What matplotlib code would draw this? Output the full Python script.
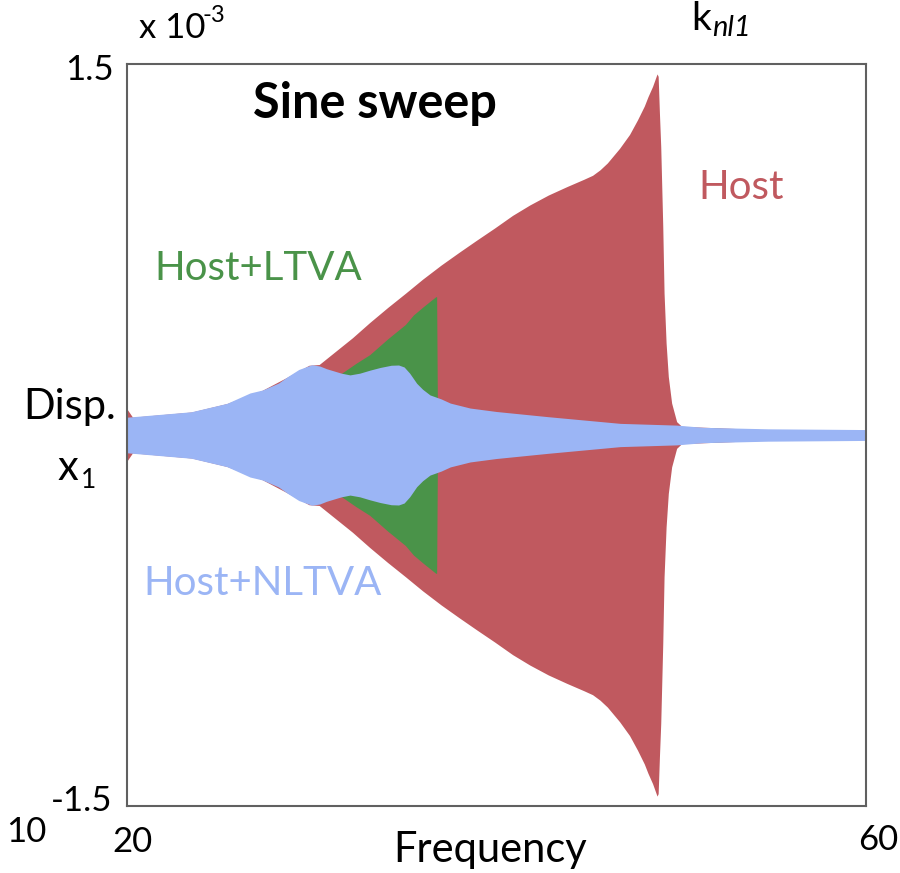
import numpy as np
import matplotlib
matplotlib.use("Agg")
import matplotlib.pyplot as plt

plt.rcParams['font.family'] = ['Lato', 'DejaVu Sans']

# envelope amplitudes (x 1e-3), symmetric about zero
f_host = [20.0, 20.3, 23.5, 25.4, 27.3, 28.7, 29.85, 30.4, 31.2, 32.2, 33.14, 34.1, 35.07, 36.0,
          37.0, 38.0, 38.93, 39.9, 40.87, 41.8, 42.8, 43.8, 44.73, 45.2, 45.6, 46.0, 46.66,
          47.2, 47.63, 48.0, 48.2, 48.45, 48.69, 48.75, 48.82, 48.89, 49.0, 49.07, 49.18,
          49.3, 49.48, 49.75, 50.02, 55.0, 60.0]
a_host = [0.105, 0.072, 0.093, 0.127, 0.18, 0.235, 0.282, 0.285, 0.333, 0.393, 0.455, 0.515, 0.573, 0.63,
          0.687, 0.74, 0.788, 0.837, 0.888, 0.93, 0.97, 1.004, 1.034, 1.05, 1.072, 1.1, 1.159,
          1.215, 1.274, 1.33, 1.368, 1.41, 1.46, 1.45, 1.3, 1.166, 0.842, 0.574, 0.372,
          0.236, 0.129, 0.054, 0.035, 0.02, 0.018]

f_ltva = [20.0, 23.48, 25.41, 27.34, 28.69, 29.85, 30.4, 31.2, 31.6, 32.4, 33.14, 34.1, 35.07, 35.5,
          36.04, 36.71, 36.76, 36.8, 37.5, 38.57, 40.0, 42.8, 46.7, 49.75, 54.7, 60.0]
a_ltva = [0.06, 0.085, 0.115, 0.165, 0.21, 0.25, 0.24, 0.244, 0.249, 0.29, 0.325, 0.388, 0.447, 0.485,
          0.519, 0.559, 0.559, 0.12, 0.11, 0.095, 0.085, 0.065, 0.04, 0.033, 0.02, 0.017]

f_nltva = [20.0, 23.48, 25.41, 26.66, 27.34, 28.2, 28.69, 29.3, 30.0, 30.43, 30.8, 31.6, 32.07, 32.6,
           33.14, 33.7, 34.3, 34.7, 35.0, 35.3, 35.68, 36.0, 36.4, 37.0, 37.5, 38.57, 40.0, 42.8,
           46.7, 49.75, 51.2, 54.7, 60.0]
a_nltva = [0.072, 0.094, 0.128, 0.17, 0.182, 0.21, 0.236, 0.265, 0.284, 0.279, 0.268, 0.25, 0.243, 0.25,
           0.262, 0.273, 0.282, 0.283, 0.275, 0.25, 0.209, 0.185, 0.162, 0.146, 0.129, 0.109, 0.095, 0.074,
           0.047, 0.040, 0.031, 0.025, 0.022]

c_host = '#C0595F'
c_ltva = '#4A9349'
c_nltva = '#9BB5F5'

fig = plt.figure(figsize=(9, 8.73), dpi=100)
ax = fig.add_axes([127/900, 1-806/873, 739/900, 742/873])

for f, a, c in [(f_host, a_host, c_host), (f_ltva, a_ltva, c_ltva), (f_nltva, a_nltva, c_nltva)]:
    f = np.array(f); a = np.array(a)
    ax.fill_between(f, -a, a, color=c, lw=0)

ax.set_xlim(20, 60)
ax.set_ylim(-1.5, 1.5)
ax.set_xticks([])
ax.set_yticks([])
for s in ax.spines.values():
    s.set_color('#606060')
    s.set_linewidth(1.5)

ax.text(0.335, 0.947, 'Sine sweep', transform=ax.transAxes, fontsize=35, fontweight='bold',
        ha='center', va='center')
ax.text(0.831, 0.833, 'Host', transform=ax.transAxes, fontsize=29, color=c_host, ha='center', va='center')
ax.text(0.177, 0.724, 'Host+LTVA', transform=ax.transAxes, fontsize=29, color=c_ltva, ha='center', va='center')
ax.text(0.184, 0.30, 'Host+NLTVA', transform=ax.transAxes, fontsize=29, color=c_nltva, ha='center', va='center')

W, H = 900, 873
def ft(x, y, s, **kw):
    fig.text(x/W, 1-y/H, s, **kw)

ft(172, 28, 'x 10', fontsize=25, ha='center', va='center')
ft(202, 16, '-3', fontsize=17, ha='left', va='center')
ft(114, 70, '1.5', fontsize=25, ha='right', va='center')
ft(112, 801, '-1.5', fontsize=25, ha='right', va='center')
ft(26, 832, '10', fontsize=25, ha='center', va='center')
ft(132, 842, '20', fontsize=25, ha='center', va='center')
ft(878, 840, '60', fontsize=25, ha='center', va='center')
ft(490, 850, 'Frequency', fontsize=30, ha='center', va='center')
ft(70, 407, 'Disp.', fontsize=30, ha='center', va='center')
ft(68, 468, 'x', fontsize=30, ha='center', va='center')
ft(81, 480, '1', fontsize=19, ha='left', va='center')
ft(701, 30, 'k', fontsize=28, ha='center', va='baseline')
ft(712, 36, 'nl1', fontsize=21, style='italic', ha='left', va='baseline')

fig.savefig('out.png', dpi=100)
